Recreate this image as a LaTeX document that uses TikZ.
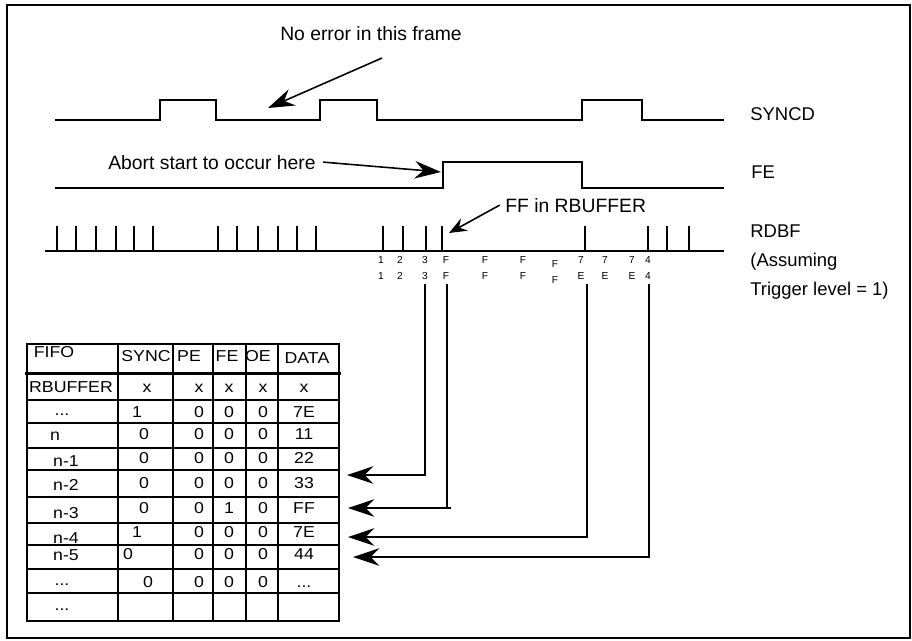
\documentclass[tikz,border=0pt]{standalone}
\usepackage{fontspec}
\setmainfont{Liberation Sans}
\newfontfamily\cellfont[FakeStretch=1.12]{Liberation Sans}
\usetikzlibrary{arrows.meta}
\newcommand\ellip{...}

\begin{document}
\begin{tikzpicture}[x=0.02cm,y=-0.02cm,
        wave/.style={line width=1.1pt},
        grid/.style={line width=0.8pt},
        link/.style={line width=0.9pt},
        ptr/.style={line width=0.9pt,-{Stealth[length=15pt,width=10pt,inset=5pt]}},
        sptr/.style={line width=0.9pt,-{Stealth[length=10pt,width=8pt,inset=3.5pt]}},
        lbl/.style={inner sep=0pt,anchor=base,font=\fontsize{11}{13}\selectfont},
        sig/.style={inner sep=0pt,anchor=base west,align=left,font=\fontsize{10.5}{16.5}\selectfont},
        cell/.style={inner sep=0pt,anchor=base,font=\cellfont\fontsize{9}{11}\selectfont},
        tiny/.style={inner sep=0pt,anchor=base,font=\fontsize{5.8}{6}\selectfont}]
    \useasboundingbox (0,0) rectangle (912,640);
    \draw[line width=1.4pt] (7,5) rectangle (910,638);
    % SYNCD
    \draw[wave] (55,120) -- (160,120) -- (160,100) -- (216,100) -- (216,120)
        -- (320,120) -- (320,100) -- (377,100) -- (377,120) -- (582,120)
        -- (582,100) -- (642,100) -- (642,120) -- (724,120);
    \node[sig] (syncd) at (750,120) {SYNCD};
    \node[lbl] (noerr) at (371,40) {No error in this frame};
    \coordinate (noerr-tail) at (382,58);
    \coordinate (noerr-tip) at (268,108);
    \draw[ptr] (noerr-tail) -- (noerr-tip);
    % FE
    \draw[wave] (55,188) -- (443,188) -- (443,162) -- (582,162) -- (582,188) -- (724,188);
    \node[sig] (fe) at (751,178) {FE};
    \node[lbl,anchor=base west] (abort) at (108,169) {Abort start to occur here};
    \coordinate (fe-rise) at (441,172);
    \draw[ptr] ([xshift=4pt]abort.east) -- (fe-rise);
    % RDBF
    \draw[wave] (45,251) -- (724,251);
    \foreach \x in {57,76,96,116,134,153,218,237,258,278,297,316,383,403,426,442,585,648,667,689}
        \draw[wave] (\x,226) -- (\x,251);
    \foreach \x/\a/\b/\d in {381/1/1/0,400/2/2/0,425/3/3/0,446/F/F/0,485/F/F/0,523/F/F/0,
                             555/F/F/4,581/7/E/0,605/7/E/0,632/7/E/0,648/4/4/0} {
        \node[tiny] (hi\x) at (\x,263+\d) {\a};
        \node[tiny] (lo\x) at (\x,279+\d) {\b};
    }
    \node[sig] (rdbf) at (750,295) {RDBF\\(Assuming\\Trigger level = 1)};
    \node[lbl,anchor=base west] (ffrb) at (505,212) {FF in RBUFFER};
    \coordinate (ff-tick) at (449,233);
    \draw[sptr] ([xshift=-3pt]ffrb.west) -- (ff-tick);
    % FIFO table
    \draw[grid] (27,344) rectangle (339,621);
    \foreach \x in {118,173,213,246,278}
        \draw[grid] (\x,344) -- (\x,621);
    \foreach \y in {400,423,448,470,497,523,545,569,593}
        \draw[grid] (27,\y) -- (339,\y);
    \draw[line width=1.7pt] (25,373) -- (341,373);
    \foreach \n/\x/\y/\t in {h0/54/357/FIFO,h1/146/361/SYNC,h2/189/361/PE,h3/227/361/FE,
                             h4/258/361/OE,h5/307/363/DATA,l0/71/392/RBUFFER,l1/62/415/\ellip,
                             l2/55/440/n,l3/66/466/n-1,l4/66/490/n-2,l5/66/518/n-3,
                             l6/66/543/n-4,l7/66/560/n-5,l8/62/585/\ellip,l9/62/610/\ellip}
        \node[cell] (\n) at (\x,\y) {\t};
    \foreach \n/\sx/\y/\s/\p/\f/\o/\d in {rb/147/392/x/x/x/x/x,r0/137/417/1/0/0/0/7E,
                                          r1/144/439/0/0/0/0/11,r2/144/463/0/0/0/0/22,
                                          r3/144/488/0/0/0/0/33,r4/144/513/0/0/1/0/FF,
                                          r5/137/537/1/0/0/0/7E,r6/128/559/0/0/0/0/44,
                                          r7/148/587/0/0/0/0/\ellip} {
        \node[cell] (\n s) at (\sx,\y) {\s};
        \node[cell] (\n p) at (199,\y) {\p};
        \node[cell] (\n f) at (229,\y) {\f};
        \node[cell] (\n o) at (263,\y) {\o};
        \node[cell] (\n d) at (304,\y) {\d};
    }
    % links from RDBF to the FIFO rows
    \coordinate (t3) at (425,284);
    \coordinate (tF) at (447,284);
    \coordinate (t7) at (587,284);
    \coordinate (t4) at (649,284);
    \coordinate (in2) at (347,475);
    \coordinate (in3) at (348,508);
    \coordinate (in4) at (348,537);
    \coordinate (in5) at (353,557);
    \coordinate (stub) at (451,508);
    \draw[ptr] (t3) |- (in2);
    \draw[link] (tF) |- (stub);
    \draw[ptr] (stub) -- (in3);
    \draw[ptr] (t7) |- (in4);
    \draw[ptr] (t4) |- (in5);
\end{tikzpicture}
\end{document}
